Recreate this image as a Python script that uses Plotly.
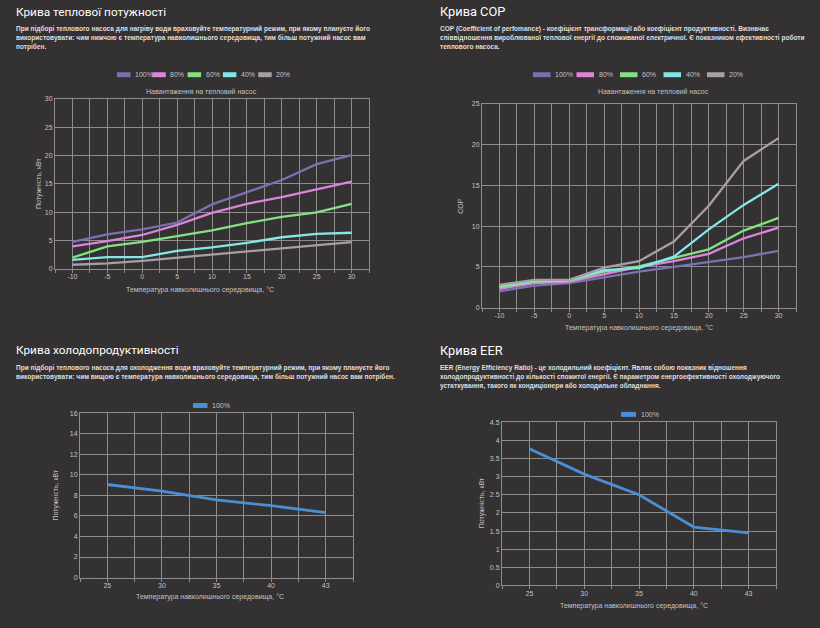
import plotly.graph_objects as go

W, H = 820, 628

# ---------------- data ----------------
heat_temps = ["-10", "-5", "0", "5", "10", "15", "20", "25", "30"]
load_labels = ["100%", "80%", "60%", "40%", "20%"]
load_colors = ["#7b70b2", "#dc84dc", "#82e282", "#84e6e6", "#a69fa6"]

heat_100 = [4.8, 6.1, 7.0, 8.2, 11.4, 13.5, 15.7, 18.5, 20.1]
heat_80 = [4.0, 4.9, 6.0, 7.8, 9.9, 11.5, 12.7, 14.1, 15.4]
heat_60 = [2.0, 4.0, 4.8, 5.8, 6.8, 8.1, 9.2, 10.0, 11.5]
heat_40 = [1.6, 2.1, 2.1, 3.2, 3.8, 4.6, 5.6, 6.2, 6.4]
heat_20 = [0.75, 1.0, 1.45, 2.0, 2.5, 3.0, 3.6, 4.2, 4.75]

cop_100 = [2.0, 2.7, 3.0, 3.7, 4.4, 5.0, 5.6, 6.2, 6.95]
cop_80 = [2.3, 3.0, 3.2, 4.1, 5.0, 5.7, 6.6, 8.5, 9.8]
cop_60 = [2.5, 3.2, 3.3, 4.4, 5.05, 6.1, 7.15, 9.45, 11.0]
cop_40 = [2.7, 3.3, 3.4, 4.6, 4.85, 6.25, 9.6, 12.6, 15.2]
cop_20 = [2.8, 3.4, 3.4, 4.9, 5.7, 8.1, 12.5, 18.0, 20.8]

cool_temps = ["25", "30", "35", "40", "43"]
cool_label = "100%"
cool_color = "#4a8fd4"
cool_100 = [9.07, 8.42, 7.56, 7.0, 6.33]
eer_100 = [3.77, 3.07, 2.5, 1.61, 1.45]

BG = "#333132"
GRID = "#8e8c8d"
TICK = "#c4c2c3"
WHITE = "#ffffff"
DESC = "#e0dedf"

fig = go.Figure()

def px(x):
    return x / W

def py(y):
    return 1 - y / H

annotations = []
shapes = []

def text(x, y, s, size=7, color=TICK, xanchor="center", yanchor="middle", family="Liberation Sans, Arial", angle=0, align="left"):
    annotations.append(dict(x=px(x), y=py(y), xref="paper", yref="paper", text=s, showarrow=False,
                            xanchor=xanchor, yanchor=yanchor, align=align, textangle=angle,
                            font=dict(size=size, color=color, family=family)))

def axes(idx, cats, xdom, ydom, yrange, ydtick):
    n = len(cats)
    tv, tt = [], []
    k = -1
    while k <= 2 * n - 1:
        v = k / 2
        tv.append(v)
        tt.append(cats[k // 2] if k % 2 == 0 else "")
        k += 1
    common = dict(showgrid=True, gridcolor=GRID, gridwidth=1, zeroline=False,
                  showline=True, linecolor=GRID, linewidth=1, mirror=True,
                  tickfont=dict(size=7, color=TICK, family="Liberation Sans, Arial"))
    sfx = "" if idx == 1 else str(idx)
    xa = dict(domain=[px(xdom[0]), px(xdom[1])], range=[-0.5, n - 0.5], tickmode="array",
              tickvals=tv, ticktext=tt, anchor="y" + sfx, ticks="outside", ticklen=3,
              tickcolor=GRID, ticklabelstandoff=-2, **common)
    ya = dict(domain=[py(ydom[1]), py(ydom[0])], range=yrange, dtick=ydtick, tick0=0,
              anchor="x" + sfx, ticks="", **common)
    fig.update_layout(**{"xaxis" + sfx: xa, "yaxis" + sfx: ya})

def legend(items, x0, y, boxw, gap):
    x = x0
    for lab, col in items:
        shapes.append(dict(type="rect", xref="paper", yref="paper",
                           x0=px(x), x1=px(x + boxw), y0=py(y + 2.5), y1=py(y - 2.5),
                           fillcolor=col, line=dict(width=0)))
        text(x + boxw + 2.5, y, lab, size=7, color=TICK, xanchor="left")
        x += gap

def desc(x, y, lines, step=9.2):
    for i, l in enumerate(lines):
        text(x, y + i * step, "<b>" + l + "</b>", size=6.55, color=DESC,
             xanchor="left", family="Liberation Sans, Arial")

xi9 = list(range(len(heat_temps)))
xi5 = list(range(len(cool_temps)))

# ---------- chart 1: heat output ----------
axes(1, heat_temps, (55, 369), (96, 268), [0, 30], 5)
for lab, col, ys in zip(load_labels, load_colors, [heat_100, heat_80, heat_60, heat_40, heat_20]):
    fig.add_trace(go.Scatter(x=xi9, y=ys, mode="lines", name=lab, line=dict(color=col, width=2.3),
                             xaxis="x", yaxis="y", showlegend=False))
text(14, 8, "Крива теплової потужності", size=11.8, color=WHITE, xanchor="left", family="Roboto")
desc(14, 25, ["При підборі теплового насоса для нагріву води враховуйте температурний режим, при якому плануєте його",
              "використовувати: чим нижчою є температура навколишнього середовища, тим більш потужний насос вам",
              "потрібен."])
legend(list(zip(load_labels, load_colors)), 117, 71.5, 13.5, 35.3)
text(201, 88, "Навантаження на тепловий насос", size=7)
text(200, 289, "Температура навколишнього середовища, °C", size=7)
text(39, 182, "Потужність, кВт", size=7, angle=-90)

# ---------- chart 2: COP ----------
axes(2, heat_temps, (482, 796), (101, 307), [0, 25], 5)
for lab, col, ys in zip(load_labels, load_colors, [cop_100, cop_80, cop_60, cop_40, cop_20]):
    fig.add_trace(go.Scatter(x=xi9, y=ys, mode="lines", name=lab, line=dict(color=col, width=2.3),
                             xaxis="x2", yaxis="y2", showlegend=False))
text(438, 8, "Крива COP", size=12.8, color=WHITE, xanchor="left", family="Roboto")
desc(438, 25, ["COP (Coefficient of perfomance) - коефіцієнт трансформації або коефіцієнт продуктивності. Визначає",
               "співвідношення вироблюваної теплової енергії до споживаної електричної. Є показником ефективності роботи",
               "теплового насоса."])
legend(list(zip(load_labels, load_colors)), 533, 71.5, 17.5, 43.5)
text(653, 88, "Навантаження на тепловий насос", size=7)
text(639, 328, "Температура навколишнього середовища, °C", size=7)
text(461, 204, "COP", size=7, angle=-90)

# ---------- chart 3: cooling ----------
axes(3, cool_temps, (80, 353), (414, 580), [0, 16], 2)
fig.add_trace(go.Scatter(x=xi5, y=cool_100, mode="lines", name=cool_label, line=dict(color=cool_color, width=2.8),
                         xaxis="x3", yaxis="y3", showlegend=False))
text(14, 350, "Крива холодопродуктивності", size=11.8, color=WHITE, xanchor="left", family="Roboto")
desc(14, 368, ["При підборі теплового насоса для охолодження води враховуйте температурний режим, при якому плануєте його",
               "використовувати: чим вищою є температура навколишнього середовища, тим більш потужний насос вам потрібен."])
legend([(cool_label, cool_color)], 193, 406, 14.5, 0)
text(210, 600, "Температура навколишнього середовища, °C", size=7)
text(56, 497, "Потужність, кВт", size=7, angle=-90)

# ---------- chart 4: EER ----------
axes(4, cool_temps, (502, 776), (423, 588), [0, 4.5], 0.5)
fig.add_trace(go.Scatter(x=xi5, y=eer_100, mode="lines", name=cool_label, line=dict(color=cool_color, width=2.8),
                         xaxis="x4", yaxis="y4", showlegend=False))
text(438, 350, "Крива EER", size=12.8, color=WHITE, xanchor="left", family="Roboto")
desc(438, 368, ["EER (Energy Efficiency Ratio) - це холодильний коефіцієнт. Являє собою показник відношення",
                "холодопродуктивності до кількості спожитої енергії. Є параметром енергоефективності охолоджуючого",
                "устаткування, такого як кондиціонери або холодильне обладнання."])
legend([(cool_label, cool_color)], 621, 415, 15, 0)
text(634, 609, "Температура навколишнього середовища, °C", size=7)
text(482, 505, "Потужність, кВт", size=7, angle=-90)

fig.update_layout(width=W, height=H, margin=dict(l=0, r=0, t=0, b=0),
                  paper_bgcolor=BG, plot_bgcolor=BG, showlegend=False,
                  annotations=annotations, shapes=shapes)

fig.write_html("out.html", include_plotlyjs=True, full_html=True,
               config={"displayModeBar": False})
